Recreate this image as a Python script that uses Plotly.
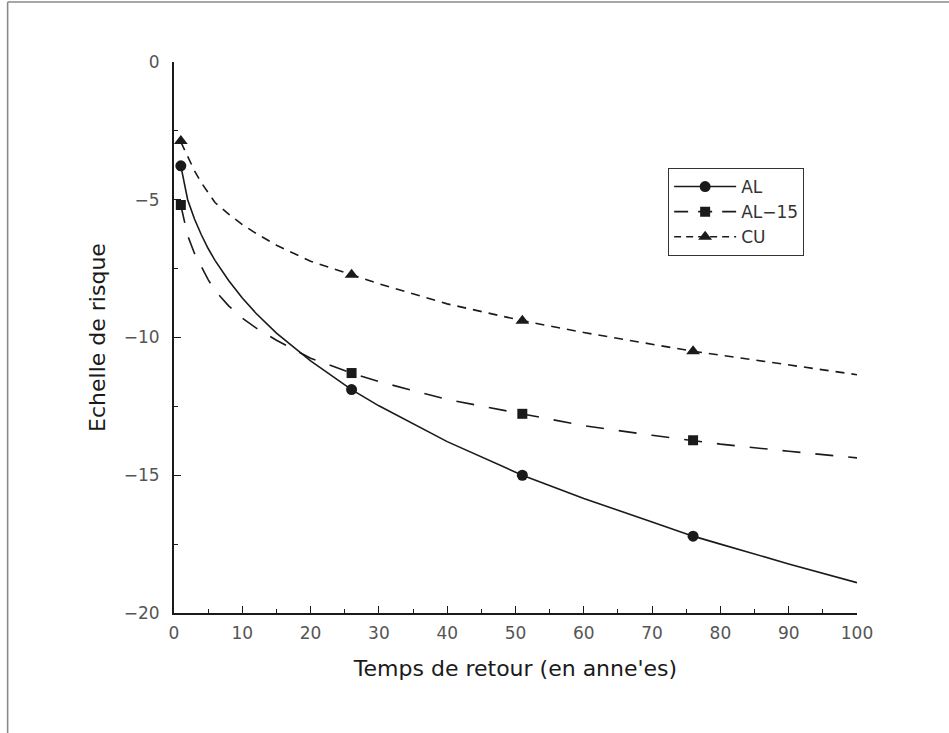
import plotly.graph_objects as go

# ---- data ----
x_curve = [1, 2, 3, 4, 5, 6, 8, 10, 12, 15, 20, 26, 30, 40, 51, 60, 70, 76, 80, 90, 100]
al_curve = [-3.77, -5.0, -5.7, -6.27, -6.77, -7.2, -7.93, -8.57, -9.12, -9.84, -10.85,
            -11.89, -12.48, -13.78, -15.0, -15.84, -16.7, -17.21, -17.5, -18.22, -18.9]
al15_curve = [-5.2, -6.3, -6.95, -7.45, -7.9, -8.3, -8.85, -9.3, -9.65, -10.1, -10.75,
              -11.29, -11.6, -12.25, -12.77, -13.2, -13.55, -13.73, -13.87, -14.13, -14.37]
cu_curve = [-2.9, -3.45, -3.95, -4.38, -4.76, -5.1, -5.52, -5.9, -6.22, -6.65, -7.23,
            -7.72, -8.05, -8.78, -9.39, -9.82, -10.26, -10.5, -10.64, -11.0, -11.35]

x_pts = [1, 26, 51, 76]
al_pts = [-3.77, -11.89, -15.0, -17.21]
al15_pts = [-5.19, -11.29, -12.77, -13.73]
cu_pts = [-2.87, -7.72, -9.39, -10.5]

series_names = ["AL", "AL\u221215", "CU"]
x_ticks = [0, 10, 20, 30, 40, 50, 60, 70, 80, 90, 100]
y_ticks = [-20, -15, -10, -5, 0]

INK = "#1a1a1a"
FONT = "DejaVu Sans"

styles = [
    dict(curve=al_curve, pts=al_pts, dash="solid", ldash="solid",
         symbol="circle", msize=11),
    dict(curve=al15_curve, pts=al15_pts, dash="18px,15px", ldash="14px,10px",
         symbol="square", msize=10),
    dict(curve=cu_curve, pts=cu_pts, dash="9px,7px", ldash="7px,5px",
         symbol="triangle-up", msize=12),
]

fig = go.Figure()
for name, st in zip(series_names, styles):
    fig.add_trace(go.Scatter(x=x_curve, y=st["curve"], mode="lines",
                             line=dict(color=INK, width=1.6, dash=st["dash"]),
                             showlegend=False, hoverinfo="skip", cliponaxis=False))
    fig.add_trace(go.Scatter(x=x_pts, y=st["pts"], mode="markers",
                             marker=dict(color=INK, size=st["msize"], symbol=st["symbol"]),
                             showlegend=False, cliponaxis=False))
    fig.add_trace(go.Scatter(x=[None], y=[None], mode="lines+markers", name=name,
                             line=dict(color=INK, width=1.6, dash=st["ldash"]),
                             marker=dict(color=INK, size=st["msize"], symbol=st["symbol"])))

W, H = 949, 733
L, R, T, B = 173.5, 92, 62, 120
pw, ph = W - L - R, H - T - B


def px_x(p):
    return (p - L) / pw


def px_y(p):
    return (H - B - p) / ph


frame = dict(color="#8a8a8a", width=1.6)
shapes = [
    dict(type="line", xref="paper", yref="paper", x0=px_x(7), x1=px_x(W + 5),
         y0=px_y(2), y1=px_y(2), line=frame),
    dict(type="line", xref="paper", yref="paper", x0=px_x(7), x1=px_x(7),
         y0=px_y(2), y1=px_y(H + 5), line=frame),
]

fig.update_layout(
    width=W, height=H,
    margin=dict(l=L, r=R, t=T, b=B, pad=0),
    paper_bgcolor="white", plot_bgcolor="white",
    font=dict(family=FONT, color=INK),
    shapes=shapes,
    legend=dict(x=px_x(668), y=px_y(168), xanchor="left", yanchor="top",
                bordercolor="#333333", borderwidth=1, bgcolor="white",
                font=dict(family=FONT, size=17, color="#333333"),
                itemwidth=62, tracegroupgap=0),
    xaxis=dict(range=[0, 100], tickvals=x_ticks, ticks="inside", ticklen=7,
               tickwidth=1.3, tickcolor=INK, showline=True, linecolor=INK, linewidth=2,
               showgrid=False, zeroline=False, ticklabelstandoff=4,
               minor=dict(dtick=5, ticks="inside", ticklen=4, tickwidth=1.2, tickcolor=INK,
                          showgrid=False),
               tickfont=dict(family=FONT, size=17, color="#555555"),
               title=dict(text="Temps de retour (en anne'es)", standoff=18,
                          font=dict(family=FONT, size=22, color=INK))),
    yaxis=dict(range=[-20, 0], tickvals=y_ticks, ticks="inside", ticklen=7,
               tickwidth=1.3, tickcolor=INK, showline=True, linecolor=INK, linewidth=2,
               showgrid=False, zeroline=False, ticklabelstandoff=9,
               minor=dict(dtick=2.5, ticks="inside", ticklen=4, tickwidth=1.2, tickcolor=INK,
                          showgrid=False),
               tickfont=dict(family=FONT, size=17, color="#555555"),
               title=dict(text="Echelle de risque", standoff=12,
                          font=dict(family=FONT, size=22, color=INK))),
)

fig.write_html("out.html")
